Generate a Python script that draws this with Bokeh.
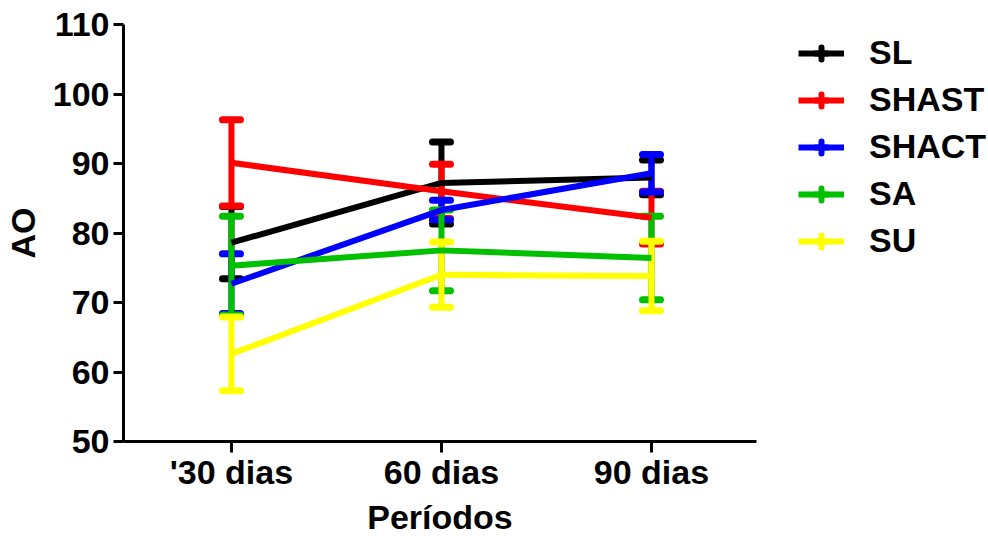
from bokeh.plotting import figure
from bokeh.models import (ColumnDataSource, Whisker, TeeHead, FixedTicker,
                          Legend, LegendItem, Range1d)
from bokeh.embed import file_html
from bokeh.resources import INLINE

periods = ["'30 dias", "60 dias", "90 dias"]
series = ["SL", "SHAST", "SHACT", "SA", "SU"]
colors = ["#000000", "#ff0000", "#0000ff", "#00c000", "#ffff00"]

SL_mean = [78.6, 87.2, 88.0]
SL_err = [5.2, 5.9, 2.5]
SHAST_mean = [90.1, 86.0, 82.2]
SHAST_err = [6.2, 3.9, 3.8]
SHACT_mean = [72.7, 83.3, 88.6]
SHACT_err = [4.3, 1.4, 2.7]
SA_mean = [75.3, 77.5, 76.4]
SA_err = [7.1, 5.8, 6.0]
SU_mean = [62.6, 74.0, 73.8]
SU_err = [5.3, 4.7, 5.0]

means = [SL_mean, SHAST_mean, SHACT_mean, SA_mean, SU_mean]
errs = [SL_err, SHAST_err, SHACT_err, SA_err, SU_err]

FONT = "Liberation Sans"
FS = "34px"

p = figure(frame_width=633, frame_height=417, output_backend="svg",
           toolbar_location=None, min_border_left=122, min_border_top=24,
           min_border_bottom=96, min_border_right=225,
           x_range=Range1d(-0.514, 2.5), y_range=Range1d(50, 110))
p.outline_line_color = None
p.grid.visible = False

xs = list(range(len(periods)))
items = []
for name, col, m, e in zip(series, colors, means, errs):
    src = ColumnDataSource(dict(x=xs, y=m,
                                lo=[a - b for a, b in zip(m, e)],
                                hi=[a + b for a, b in zip(m, e)]))
    ln = p.line("x", "y", source=src, line_color=col, line_width=6)
    w = Whisker(base="x", lower="lo", upper="hi", source=src,
                line_color=col, line_width=6, line_cap="round",
                upper_head=TeeHead(size=18, line_color=col, line_width=7, line_cap="round"),
                lower_head=TeeHead(size=18, line_color=col, line_width=7, line_cap="round"))
    p.add_layout(w)
    # legend-only marker, placed far outside the visible ranges
    mk = p.scatter(x=[-100], y=[-100], marker="cross", size=19,
                   line_color=col, line_width=6, line_cap="round")
    items.append(LegendItem(label=name, renderers=[ln, mk]))

legend = Legend(items=items, location=(42, 181), padding=0, margin=0,
                glyph_width=46, glyph_height=30, label_height=30, spacing=8,
                label_standoff=25, label_text_font=FONT,
                label_text_font_style="bold", label_text_font_size=FS,
                label_text_color="black",
                border_line_color=None, background_fill_alpha=0)
p.add_layout(legend, "right")

for ax in (p.xaxis[0], p.yaxis[0]):
    ax.axis_line_width = 3
    ax.major_tick_line_width = 3
    ax.minor_tick_line_color = None
    ax.major_tick_in = 0
    ax.major_label_text_font = FONT
    ax.major_label_text_font_style = "bold"
    ax.major_label_text_font_size = FS
    ax.major_label_text_color = "black"
    ax.axis_label_text_font = FONT
    ax.axis_label_text_font_style = "bold"
    ax.axis_label_text_font_size = FS
    ax.axis_label_text_color = "black"

p.xaxis.ticker = FixedTicker(ticks=xs)
p.xaxis.major_label_overrides = {i: s for i, s in enumerate(periods)}
p.xaxis.major_tick_out = 11
p.xaxis.major_label_standoff = 0
p.xaxis.axis_label = "Períodos"
p.xaxis.axis_label_standoff = 4

p.yaxis.ticker = FixedTicker(ticks=[50, 60, 70, 80, 90, 100, 110])
p.yaxis.major_tick_out = 10
p.yaxis.major_label_standoff = 4
p.yaxis.axis_label = "AO"
p.yaxis.axis_label_standoff = 8

open("out.html", "w").write(file_html(p, INLINE))
